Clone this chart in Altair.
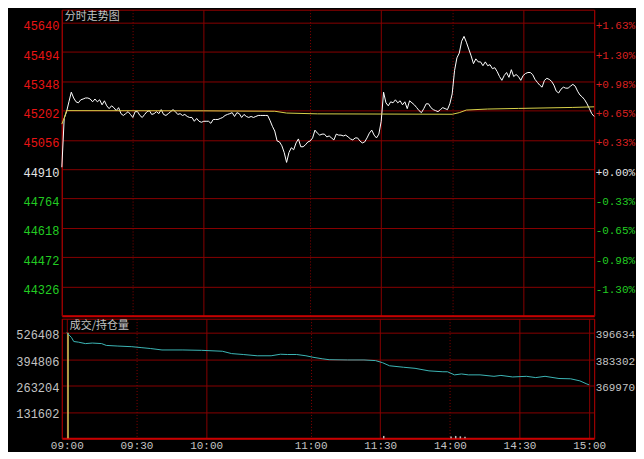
import altair as alt
import pandas as pd

# ---------------- values ----------------
PREV_SETTLE = 44910

# last price, one value per trading minute (0 = 09:00 ... 225 = 15:00)
price = [
    44920, 45163, 45197, 45246, 45294, 45265, 45246, 45241, 45256, 45260,
    45265, 45265, 45260, 45246, 45260, 45246, 45256, 45231, 45251, 45226,
    45212, 45226, 45217, 45202, 45217, 45187, 45178, 45187, 45197, 45183,
    45168, 45197, 45197, 45178, 45168, 45183, 45197, 45202, 45183, 45187,
    45197, 45187, 45207, 45183, 45178, 45187, 45197, 45207, 45197, 45183,
    45187, 45178, 45183, 45173, 45168, 45168, 45149, 45163, 45149, 45144,
    45149, 45149, 45149, 45139, 45158, 45158, 45158, 45163, 45168, 45178,
    45183, 45187, 45192, 45173, 45192, 45187, 45168, 45183, 45173, 45168,
    45173, 45168, 45173, 45178, 45178, 45178, 45178, 45178, 45153, 45124,
    45100, 45051, 45046, 45027, 44993, 44944, 44993, 45017, 45007, 45041,
    45061, 45022, 45022, 45032, 45046, 45051, 45066, 45105, 45090, 45080,
    45085, 45085, 45071, 45076, 45066, 45056, 45085, 45080, 45080, 45076,
    45080, 45071, 45061, 45056, 45066, 45066, 45051, 45041, 45046, 45066,
    45090, 45105, 45080, 45066, 45085, 45149, 45294, 45241, 45226, 45246,
    45241, 45256, 45241, 45251, 45231, 45246, 45212, 45251, 45241, 45231,
    45217, 45202, 45192, 45212, 45236, 45236, 45217, 45207, 45202, 45197,
    45207, 45217, 45212, 45207, 45236, 45285, 45402, 45465, 45489, 45548,
    45572, 45543, 45509, 45475, 45436, 45460, 45445, 45445, 45426, 45445,
    45426, 45431, 45411, 45416, 45397, 45372, 45353, 45377, 45392, 45368,
    45406, 45372, 45382, 45372, 45353, 45377, 45387, 45392, 45392, 45382,
    45358, 45343, 45329, 45319, 45353, 45363, 45358, 45348, 45329, 45299,
    45290, 45309, 45319, 45314, 45314, 45324, 45333, 45324, 45299, 45280,
    45270, 45256, 45236, 45212, 45187, 45173,
]
minutes = list(range(len(price)))

# average price line
avg_minutes = [0, 1, 2, 60, 90, 95, 108, 165, 168, 171, 180, 193, 216, 225]
avg_price = [45135, 45165, 45202, 45201, 45199, 45190, 45186, 45184, 45192,
             45205, 45210, 45213, 45218, 45221]

# open interest (teal line, right axis of lower panel)
oi_minutes = [0, 1, 2, 3, 5, 8, 11, 15, 17, 22, 28, 32, 36, 41, 50, 58, 67, 71,
              76, 82, 88, 92, 95, 99, 103, 106, 110, 113, 121, 128, 133, 136,
              139, 145, 150, 156, 162, 164, 167, 170, 173, 178, 184, 187, 192,
              198, 202, 206, 212, 217, 221, 224, 225]
oi_value = [396800, 395500, 394300, 392267, 391945, 391210, 391485, 391210,
            390290, 389968, 389647, 389187, 388727, 387992, 387992, 387800,
            387348, 386153, 385693, 385050, 385050, 385831, 385693, 385693,
            385050, 384314, 383533, 383073, 382935, 382935, 382613, 381556,
            379993, 379257, 378706, 377419, 376960, 376960, 375396, 375856,
            375396, 375396, 374661, 375120, 374339, 374661, 374017, 374661,
            373557, 373419, 372362, 370799, 370339]

# volume bars
vol_minutes = [0, 136, 165, 167, 169, 171]
vol_value = [526408, 12000, 9000, 12000, 10000, 8000]

# tick values / labels
price_ticks = [44326, 44472, 44618, 44764, 44910, 45056, 45202, 45348, 45494, 45640]
vol_ticks = [131602, 263204, 394806, 526408]
oi_ticks = [369970, 383302, 396634]
time_ticks = [0, 30, 60, 105, 135, 165, 195, 225]
time_labels = ["09:00", "09:30", "10:00", "11:00", "11:30", "14:00", "14:30", "15:00"]
dotted_ticks = [30, 105, 165]

# scale extents (top strips hold the panel titles)
PRICE_DOMAIN = [44180, 45705]
VOL_DOMAIN = [0, 597050]
OI_DOMAIN = [343306, 403790]

# ---------------- styling ----------------
MONO = "Liberation Mono"
CJK = "Noto Sans CJK SC"
GRID = "#870000"
LINE_RED = "#9a0000"
BRIGHT_RED = "#c80000"
RED_TXT = "#ea1414"
RED_TXT_R = "#d82020"
GREEN_TXT = "#22cc22"
WHITE_TXT = "#e6e6e6"
GRAY_TXT = "#c4c4c4"
YELLOW = "#d9d24a"
TEAL = "#3cb6b6"

PLOT_W = 534
TOP_H = 307
BOT_H = 120

up_down_color = {
    "condition": [
        {"test": f"datum.value > {PREV_SETTLE}", "value": RED_TXT},
        {"test": f"datum.value == {PREV_SETTLE}", "value": WHITE_TXT},
    ],
    "value": GREEN_TXT,
}
up_down_color_r = {
    "condition": [
        {"test": f"datum.value > {PREV_SETTLE}", "value": RED_TXT_R},
        {"test": f"datum.value == {PREV_SETTLE}", "value": WHITE_TXT},
    ],
    "value": GREEN_TXT,
}
grid_dash = {
    "condition": {"test": f"indexof({dotted_ticks}, datum.value) >= 0", "value": [1, 2]},
    "value": [],
}

xscale = alt.Scale(domain=[0, 225], nice=False, zero=False)

x_top_axis = alt.Axis(values=time_ticks, labels=False, ticks=False, domain=True,
                      domainColor=BRIGHT_RED, domainWidth=2, grid=True,
                      gridColor=GRID, gridDash=grid_dash, title=None, orient="bottom")
x_bot_axis = alt.Axis(values=time_ticks, labels=True, ticks=False, domain=True,
                      domainColor=BRIGHT_RED, domainWidth=2, grid=True,
                      gridColor=GRID, gridDash=grid_dash, title=None, orient="bottom",
                      labelExpr=f"{time_labels}[indexof({time_ticks}, datum.value)]",
                      labelFont=MONO, labelFontSize=11, labelColor=GRAY_TXT,
                      labelPadding=1, labelBaseline="top", labelFlush=False,
                      labelOverlap=False)

price_left_axis = alt.Axis(values=price_ticks, format="d", orient="left", grid=True,
                           gridColor=GRID, domain=True, domainColor=LINE_RED,
                           ticks=False, labelPadding=3, labelOffset=3,
                           labelFont=MONO, labelFontSize=12, labelColor=up_down_color,
                           minExtent=53, maxExtent=53, title=None, labelOverlap=False)
pct_expr = (f"(datum.value >= {PREV_SETTLE} ? '+' : '-') + "
            f"format(abs(datum.value - {PREV_SETTLE}) / {PREV_SETTLE} * 100, '.2f') + '%'")
price_right_axis = alt.Axis(values=price_ticks, orient="right", grid=False,
                            domain=True, domainColor=LINE_RED, ticks=False,
                            labelPadding=1, labelOffset=3, labelExpr=pct_expr,
                            labelFont=MONO, labelFontSize=11,
                            labelColor=up_down_color_r, title=None, labelOverlap=False)

vol_left_axis = alt.Axis(values=vol_ticks, format="d", orient="left", grid=True,
                         gridColor=GRID, domain=True, domainColor=LINE_RED,
                         ticks=False, labelPadding=3, labelOffset=2, labelFont=MONO,
                         labelFontSize=12, labelColor=GRAY_TXT, minExtent=53,
                         maxExtent=53, title=None, labelOverlap=False)
oi_right_axis = alt.Axis(values=oi_ticks, format="d", orient="right", grid=False,
                         domain=True, domainColor=LINE_RED, ticks=False,
                         labelPadding=1, labelOffset=2, labelFont=MONO,
                         labelFontSize=11, labelColor=GRAY_TXT, title=None,
                         labelOverlap=False)

price_scale = alt.Scale(domain=PRICE_DOMAIN, nice=False, zero=False)
vol_scale = alt.Scale(domain=VOL_DOMAIN, nice=False, zero=False)
oi_scale = alt.Scale(domain=OI_DOMAIN, nice=False, zero=False)

# ---------------- data frames ----------------
price_df = pd.DataFrame({"minute": minutes, "price": price})
avg_df = pd.DataFrame({"minute": avg_minutes, "avg": avg_price})
oi_df = pd.DataFrame({"minute": oi_minutes, "oi": oi_value})
vol_df = pd.DataFrame({"minute": vol_minutes, "vol": vol_value})
title_top_df = pd.DataFrame({"minute": [0], "price": [PRICE_DOMAIN[1]], "label": ["分时走势图"]})
title_bot_df = pd.DataFrame({"minute": [0], "vol": [VOL_DOMAIN[1]], "label": ["成交/持仓量"]})

# ---------------- upper panel ----------------
xt = alt.X("minute:Q", scale=xscale, axis=x_top_axis)
line_price = alt.Chart(price_df).mark_line(color="#ffffff", strokeWidth=1).encode(
    x=xt, y=alt.Y("price:Q", scale=price_scale, axis=price_left_axis))
line_avg = alt.Chart(avg_df).mark_line(color=YELLOW, strokeWidth=1).encode(
    x=xt, y=alt.Y("avg:Q", scale=price_scale, axis=price_right_axis))
title_top = alt.Chart(title_top_df).mark_text(
    align="left", baseline="middle", dx=3, dy=7, font=CJK, fontSize=11, color=GRAY_TXT
).encode(x=xt, y=alt.Y("price:Q", scale=price_scale, axis=None), text="label:N")

top = alt.layer(line_price, line_avg, title_top).resolve_axis(y="independent").properties(
    width=PLOT_W, height=TOP_H)

# ---------------- lower panel ----------------
xb = alt.X("minute:Q", scale=xscale, axis=x_bot_axis)
bars = alt.Chart(vol_df).mark_bar(size=1.5, xOffset=1.2).encode(
    x=xb, y=alt.Y("vol:Q", scale=vol_scale, axis=vol_left_axis),
    color=alt.condition("datum.minute == 0", alt.value("#d8cf5c"), alt.value("#bdbdbd")))
oi_line = alt.Chart(oi_df).mark_line(color=TEAL, strokeWidth=1).encode(
    x=xb, y=alt.Y("oi:Q", scale=oi_scale, axis=oi_right_axis))
title_bot = alt.Chart(title_bot_df).mark_text(
    align="left", baseline="middle", dx=3, dy=7, font=CJK, fontSize=11, color=GRAY_TXT
).encode(x=xb, y=alt.Y("vol:Q", scale=vol_scale, axis=None), text="label:N")

bottom = alt.layer(bars, oi_line, title_bot).resolve_scale(y="independent").properties(
    width=PLOT_W, height=BOT_H)

chart = alt.vconcat(top, bottom, spacing=1).properties(
    background="#000000", padding=0
).configure_view(stroke=LINE_RED, strokeWidth=1)

chart.save("out.html", embed_options={"renderer": "svg", "actions": False})
